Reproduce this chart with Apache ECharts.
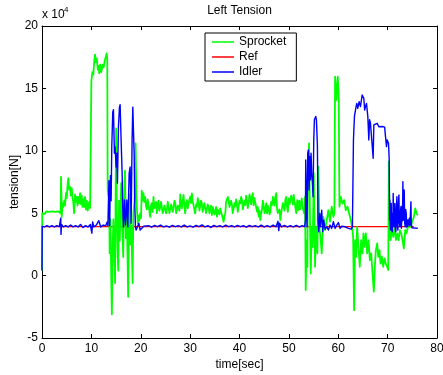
<!DOCTYPE html>
<html><head><meta charset="utf-8">
<script src="https://cdn.jsdelivr.net/npm/echarts@6/dist/echarts.min.js"></script>
<style>html,body{margin:0;padding:0;background:#fff}#c{width:443px;height:375px}</style>
</head><body><div id="c"></div>
<script>
// values in units of 1e4 N, time in seconds
const legendNames = ['Sprocket', 'Ref', 'Idler'];
const xTicks = { min: 0, max: 80, interval: 10 };
const yTicks = { min: -5, max: 20, interval: 5 };

const sprocket = [
[0,0.4],[0.05,5.0],[0.3,5.1],[0.6,4.95],[0.9,5.15],[1.2,5.0],[1.5,5.1],[1.8,4.95],[2.1,5.15],[2.4,5.0],[2.7,5.1],[3.0,4.95],[3.3,5.15],[3.6,5.05],[3.78,5.0],
[3.85,7.9],[3.95,6.2],[4.0,4.7],[4.15,5.8],[4.33,5.5],[4.5,6.0],[4.66,5.6],[4.85,6.6],[5.0,6.2],[5.2,7.4],[5.34,7.8],[5.5,6.9],[5.68,7.1],[5.85,6.4],[6.02,7.0],[6.2,6.2],[6.36,5.8],[6.5,5.0],[6.69,6.5],[6.85,5.9],[7.03,6.3],[7.2,5.6],[7.37,6.3],[7.55,5.8],[7.71,6.6],[7.9,5.7],[8.05,6.4],[8.2,5.5],[8.38,6.1],[8.55,5.5],[8.72,6.3],[8.9,5.3],[9.06,6.0],[9.25,5.2],[9.4,5.1],[9.55,5.9],[9.74,5.4],[9.92,5.5],
[10.0,15.6],[10.2,16.3],[10.4,16.1],[10.6,17.3],[10.75,17.7],[10.9,17.1],[11.1,17.4],[11.3,16.5],[11.45,16.8],[11.6,16.2],[11.8,16.9],[12.0,16.3],[12.15,16.6],[12.3,16.9],[12.5,16.7],[12.7,17.2],[12.9,17.5],[13.1,17.8],[13.22,17.3],
[13.3,6.9],[13.45,6.4],[13.6,6.7],[13.7,1.8],[13.85,4.5],[14.0,0.5],[14.15,-3.1],[14.3,2.0],[14.45,4.5],[14.6,2.5],[14.8,-0.6],[15.0,11.8],[15.15,5.5],[15.3,2.0],[15.45,0.4],[15.6,6.0],[15.75,2.8],[15.9,5.5],[16.05,7.4],[16.25,3.9],[16.45,1.5],[16.6,5.5],[16.8,8.4],[17.0,3.0],[17.2,4.5],[17.45,-1.7],[17.6,3.5],[17.75,6.5],[17.9,2.5],[18.1,4.0],[18.35,-0.6],[18.5,5.0],[18.75,6.0],[18.95,10.6],[19.1,6.5],[19.25,5.2],[19.4,4.2],[19.55,4.8],[19.7,4.4],[19.9,5.0],[20.05,4.6],[20.2,6.8],[20.4,6.0],
[20.55,6.6],[20.72,5.9],[20.89,6.3],[21.06,5.6],[21.23,5.3],[21.4,6.1],[21.57,6.0],[21.74,5.2],[21.9,4.7],[22.07,5.6],[22.24,5.8],[22.41,5.1],[22.58,6.3],[22.75,5.4],[22.92,5.5],[23.09,5.9],[23.26,5.0],[23.43,5.7],[23.6,6.0],[23.77,5.2],[23.94,5.5],[24.11,5.9],[24.28,5.8],[24.45,5.0],[24.62,4.9],[24.79,5.6],[24.96,5.6],[25.13,5.0],[25.3,5.3],[25.47,5.9],[25.64,5.8],[25.81,5.0],[25.98,5.0],[26.15,5.7],[26.32,5.6],[26.49,5.1],[26.66,5.5],[26.83,6.0],[27.0,5.8],[27.17,5.0],[27.34,4.9],[27.51,5.6],[27.68,5.5],[27.85,5.2],[28.0,6.5],[28.17,5.7],
[28.33,5.39],[28.5,6.0],[28.67,6.46],[28.84,5.6],[29.0,4.98],[29.17,5.8],[29.34,6.05],[29.51,5.4],[29.68,5.25],[29.85,6.1],[30.02,6.32],[30.19,5.8],[30.36,6.59],[30.52,5.9],[30.69,5.65],[30.86,5.3],[31.03,4.98],[31.2,5.7],[31.37,5.52],[31.54,6.2],[31.71,5.92],[31.88,5.2],[32.05,5.25],[32.22,6.0],[32.38,5.79],[32.55,5.1],[32.72,5.12],[32.89,5.8],[33.06,5.39],[33.23,5.0],[33.4,4.98],[33.57,5.7],[33.74,5.52],[33.9,5.0],[34.07,5.25],[34.24,5.6],[34.41,4.85],[34.58,5.5],[34.75,5.39],[34.92,4.9],[35.09,5.12],[35.26,5.5],[35.43,4.72],[35.6,5.3],[35.76,5.25],[35.93,4.9],[36.1,5.39],[36.27,5.1],[36.44,4.85],[36.61,4.6],[36.78,4.31],[36.95,4.8],[37.12,4.98],[37.28,5.9],[37.45,5.79],[37.62,6.3],[37.79,6.05],[37.96,5.5],[38.13,5.39],[38.3,6.0],[38.47,5.65],[38.64,5.0],[38.81,5.12],[38.98,5.8],[39.14,5.52],[39.31,6.1],[39.48,5.79],[39.65,5.1],[39.82,5.25],[39.99,6.0],[40.16,5.79],[40.33,6.3],[40.5,6.05],[40.67,5.3],[40.83,5.39],[41.0,6.0],[41.17,5.65],[41.34,6.4],[41.51,6.05],[41.68,5.4],[41.85,5.79],[42.02,6.5],[42.19,6.19],[42.36,5.7],[42.52,6.32],[42.69,6.6],[42.86,5.65],[43.03,6.2],[43.2,6.05],[43.37,5.5],[43.54,5.12],[43.71,5.5],[43.88,4.72],[44.05,5.2],[44.21,4.45],[44.38,5.0],[44.55,5.25],[44.72,6.0],[44.89,5.65],[45.06,5.0],[45.23,5.25],[45.4,5.8],[45.57,4.98],[45.74,5.6],[45.9,5.39],[46.07,4.9],[46.24,5.12],[46.41,5.9],[46.58,5.65],[46.75,6.3],[46.92,6.05],[47.09,5.6],[47.26,6.32],[47.43,6.6],[47.59,5.39],[47.76,5.0],[47.93,4.85],[48.1,5.3],[48.27,4.45],[48.44,5.0],[48.61,5.12],[48.78,5.8],[48.95,5.65],[49.12,5.2],[49.28,6.05],[49.45,6.3],[49.62,5.52],[49.79,5.1],[49.96,6.19],[50.13,5.7],[50.3,5.79],[50.47,6.4],[50.64,6.32],[50.81,5.7],[50.97,6.46],[51.14,5.9],[51.31,5.79],
[51.5,5.0],[51.7,6.05],[51.93,5.25],[52.1,6.0],[52.26,5.3],[52.45,5.78],[52.6,6.19],[52.8,5.4],[52.94,5.52],[53.1,5.0],[53.28,6.32],[53.41,-1.16],
[53.61,2.85],[53.75,0.71],[53.82,6.86],[54.09,10.6],[54.29,4.0],[54.43,0.17],[54.63,3.91],[54.83,2.31],[55.04,8.2],[55.3,0.71],[55.51,3.91],[55.78,1.78],[55.98,8.72],[56.18,3.91],[56.45,2.85],[56.65,1.78],[56.99,4.71],[57.33,3.65],[57.67,4.45],[58.0,5.25],[58.34,4.32],[58.68,5.52],[59.02,4.71],[59.22,4.98],[59.36,15.95],[59.63,14.07],[59.9,15.95],[60.1,14.34],[60.24,5.52],[60.51,6.32],[60.85,5.78],[61.19,6.05],[61.53,5.25],[61.87,5.52],[62.2,4.98],[62.54,4.45],[62.81,3.91],[63.01,3.11],[63.21,-2.77],[63.41,2.85],[63.62,1.51],[63.82,3.91],[64.09,2.31],[64.36,0.71],[64.63,2.85],[64.9,1.78],[65.1,3.38],
[65.32,2.31],[65.59,3.38],[65.86,1.78],[66.13,2.85],[66.4,1.24],[66.67,1.78],[66.94,0.17],[67.21,-1.29],[67.41,0.71],[67.61,2.04],[67.89,2.58],[68.09,1.51],[68.36,2.04],[68.56,0.97],[68.83,1.51],[69.1,0.71],[69.37,1.37],[69.64,0.97],[69.91,0.71],[70.12,0.44],[70.25,9.13],[70.39,3.65],[70.59,2.85],[70.86,3.65],[71.13,3.11],[71.4,3.91],[71.67,2.85],[71.94,3.38],[72.21,2.85],[72.48,3.65],[72.75,3.38],[73.02,2.85],[73.29,2.17],[73.56,3.65],[73.83,3.38],[74.11,3.91],[74.38,3.78],[74.65,3.91],[74.99,4.05],[75.32,4.71],[75.59,5.38],[75.86,4.98],[76.13,4.85]
];

const ref = [[0,3.93],[75.3,3.93]];

const idler = [
[0,0.4],[0.05,3.95],[0.5,3.9],[1.0,4.0],[1.5,3.9],[2.0,4.0],[2.5,3.9],[3.0,4.0],[3.5,3.92],[3.75,4.0],[3.8,4.6],[3.85,3.3],[3.95,4.1],[4.3,3.9],[4.8,4.0],[5.3,3.9],[5.8,4.05],[6.3,3.9],[6.8,4.0],[7.3,3.9],[7.8,4.1],[8.3,3.85],[8.8,4.0],[9.3,3.9],[9.8,4.1],[10.0,3.6],[10.1,3.4],[10.25,4.3],[10.5,3.9],[11.0,4.05],[11.5,4.4],[11.9,3.9],[12.4,4.05],[12.9,4.0],[13.2,4.3],[13.35,4.0],
[13.55,7.6],[13.7,4.0],[13.85,8.0],[14.0,6.0],[14.13,10.3],[14.33,13.1],[14.47,13.3],[14.67,9.8],[14.81,10.3],[15.01,8.7],[15.15,9.8],[15.28,7.4],[15.48,11.9],[15.69,13.5],[15.82,13.7],[16.02,10.9],[16.23,8.2],[16.36,5.25],[16.5,3.9],[16.7,6.06],[16.91,4.05],[17.18,6.06],[17.38,3.9],[17.65,8.2],[17.85,8.7],[18.05,4.2],[18.25,10.9],[18.39,13.5],[18.53,13.4],[18.66,9.8],[18.8,5.5],[18.93,3.9],[19.07,3.65],[19.34,3.78],[19.61,4.2],[19.88,3.65],[20.22,3.8],[20.6,3.95],
[21.0,3.9],[21.6,4.0],[22.2,3.88],[22.8,4.02],[23.4,3.92],[24.0,4.05],[24.6,3.9],[25.2,3.98],[25.8,3.88],[26.4,4.02],[27.0,3.92],[27.6,4.0],[28.2,3.9],[28.8,4.05],[29.4,3.9],[30.0,3.98],[30.6,3.88],[31.2,4.02],[31.8,3.92],[32.4,4.06],[33.0,3.9],[33.6,4.0],[34.2,3.86],[34.8,4.02],[35.4,3.92],[36.0,4.0],[36.6,3.9],[37.2,4.04],[37.8,3.92],[38.4,4.0],[39.0,3.9],[39.6,4.02],[40.2,3.92],[40.8,4.0],[41.4,3.88],[42.0,4.02],[42.6,3.92],[43.2,4.0],[43.8,3.9],[44.4,4.04],[45.0,3.9],[45.6,4.0],[46.2,3.9],[46.8,4.05],[47.4,3.92],[47.8,4.35],[47.95,3.6],[48.1,4.2],[48.5,3.9],[49.1,4.02],[49.7,3.9],[50.3,4.0],[50.9,3.9],[51.5,4.02],[52.1,3.9],[52.7,4.0],[53.2,3.92],
[53.35,4.4],[53.41,9.27],[53.55,6.06],[53.68,3.91],[53.82,9.8],[53.95,10.07],[54.09,6.86],[54.22,9.54],[54.36,7.67],[54.49,9.81],[54.63,8.2],[54.76,7.4],[54.9,6.32],[55.04,10.88],[55.17,12.48],[55.44,12.75],[55.58,12.48],[55.78,10.34],[55.91,4.45],[56.05,3.51],[56.25,4.98],[56.39,3.91],[56.65,5.25],[56.85,3.51],[57.05,4.45],[57.33,3.72],[57.67,3.91],[58.0,3.65],[58.34,4.05],[58.68,3.78],[59.02,4.32],[59.36,3.78],[59.7,4.05],[60.03,4.25],[60.37,3.78],[60.71,3.95],[61.38,3.91],[62.06,3.78],[62.6,3.72],[62.87,3.91],
[63.08,10.9],[63.28,12.75],[63.55,13.4],[63.75,13.8],[63.95,13.4],[64.23,13.94],[64.5,13.54],[64.84,14.47],[65.0,14.34],[65.18,14.2],[65.35,13.27],[65.51,13.54],[65.72,13.8],[65.99,12.74],[66.19,10.87],[66.35,12.5],[66.53,12.2],[66.87,12.33],[67.07,9.4],[67.21,12.07],[67.55,12.1],[67.88,12.2],[68.22,11.93],[68.56,12.07],[68.9,11.95],[69.24,11.93],[69.4,11.9],[69.57,11.14],[69.77,10.34],[69.91,10.87],[70.18,10.6],[70.32,9.3],
[70.4,4.45],[70.46,6.06],[70.52,4.2],[70.59,3.65],[70.66,5.4],[70.73,5.79],[70.8,3.8],[70.93,3.51],[71.0,5.0],[71.06,4.0],[71.13,6.59],[71.2,4.2],[71.27,3.91],[71.37,5.5],[71.47,5.79],[71.57,3.7],[71.67,3.51],[71.77,5.2],[71.88,6.32],[71.98,4.0],[72.08,3.65],[72.18,5.6],[72.28,6.46],[72.38,4.3],[72.48,3.91],[72.58,5.0],[72.69,5.52],[72.79,3.8],[72.89,3.65],[72.96,5.6],[73.02,4.4],[73.09,7.53],[73.16,5.0],[73.26,4.45],[73.36,6.86],[73.46,4.2],[73.56,3.91],[73.66,5.3],[73.77,4.98],[73.87,3.9],[73.97,4.45],[74.07,3.95],[74.17,4.45],[74.28,4.05],[74.4,4.6],[74.52,4.0],[74.65,4.05],[74.72,5.92],[74.78,4.2],[74.92,3.83],[75.19,3.78],[76.13,3.78]
];

const FONT = '"Liberation Sans", Arial, sans-serif';
const chart = echarts.init(document.getElementById('c'), null, { renderer: 'canvas' });

function xAxisDef(pos, withLabels) {
  return {
    type: 'value', min: xTicks.min, max: xTicks.max, interval: xTicks.interval, position: pos,
    axisLine: { show: true, onZero: false, lineStyle: { color: '#000', width: 1 } },
    axisTick: { show: true, inside: true, length: 4, lineStyle: { color: '#000' } },
    axisLabel: { show: withLabels, color: '#000', fontSize: 12, fontFamily: FONT, margin: 5, showMinLabel: true, showMaxLabel: true },
    splitLine: { show: false }
  };
}
function yAxisDef(pos, withLabels) {
  return {
    type: 'value', min: yTicks.min, max: yTicks.max, interval: yTicks.interval, position: pos,
    axisLine: { show: true, onZero: false, lineStyle: { color: '#000', width: 1 } },
    axisTick: { show: true, inside: true, length: 4, lineStyle: { color: '#000' } },
    axisLabel: { show: withLabels, color: '#000', fontSize: 12, fontFamily: FONT, margin: 4, showMinLabel: true, showMaxLabel: true },
    splitLine: { show: false }
  };
}

const xMain = xAxisDef('bottom', true);
Object.assign(xMain, { name: 'time[sec]', nameLocation: 'middle', nameGap: 21, nameMoveOverlap: false,
  nameTextStyle: { color: '#000', fontSize: 12, fontFamily: FONT } });
const yMain = yAxisDef('left', true);
Object.assign(yMain, { name: 'tension[N]', nameLocation: 'middle', nameGap: 21, nameMoveOverlap: false,
  nameTextStyle: { color: '#000', fontSize: 12, fontFamily: FONT } });

function lineSeries(name, data, color, width) {
  return { name, type: 'line', data, symbol: 'none', showSymbol: false, animation: false,
    lineStyle: { color, width, join: 'round' }, itemStyle: { color }, emphasis: { disabled: true } };
}

chart.setOption({
  animation: false,
  backgroundColor: '#fff',
  grid: { left: 42, right: 6, top: 26, bottom: 37, containLabel: false, outerBoundsMode: 'none' },
  xAxis: [xMain, xAxisDef('top', false)],
  yAxis: [yMain, yAxisDef('right', false)],
  legend: {
    data: legendNames, orient: 'vertical', left: 205, top: 33,
    padding: [3, 10, 3, 7], itemGap: 3, itemWidth: 22, itemHeight: 1.5, icon: 'rect',
    borderColor: '#000', borderWidth: 1, backgroundColor: '#fff', selectedMode: false,
    textStyle: { color: '#000', fontSize: 12, fontFamily: FONT }
  },
  graphic: [
    { type: 'text', x: 239.5, y: 11, style: { text: 'Left Tension', fill: '#000', font: '12px ' + FONT, align: 'center', verticalAlign: 'middle' } },
    { type: 'text', x: 42, y: 15, style: { text: 'x 10', fill: '#000', font: '12px ' + FONT, align: 'left', verticalAlign: 'middle' } },
    { type: 'text', x: 64, y: 10, style: { text: '4', fill: '#000', font: '8px ' + FONT, align: 'left', verticalAlign: 'middle' } }
  ],
  series: [
    lineSeries('Ref', ref, '#ff0000', 1.3),
    lineSeries('Sprocket', sprocket, '#00ff00', 1.8),
    lineSeries('Idler', idler, '#0000ff', 1.4)
  ]
});
</script></body></html>
